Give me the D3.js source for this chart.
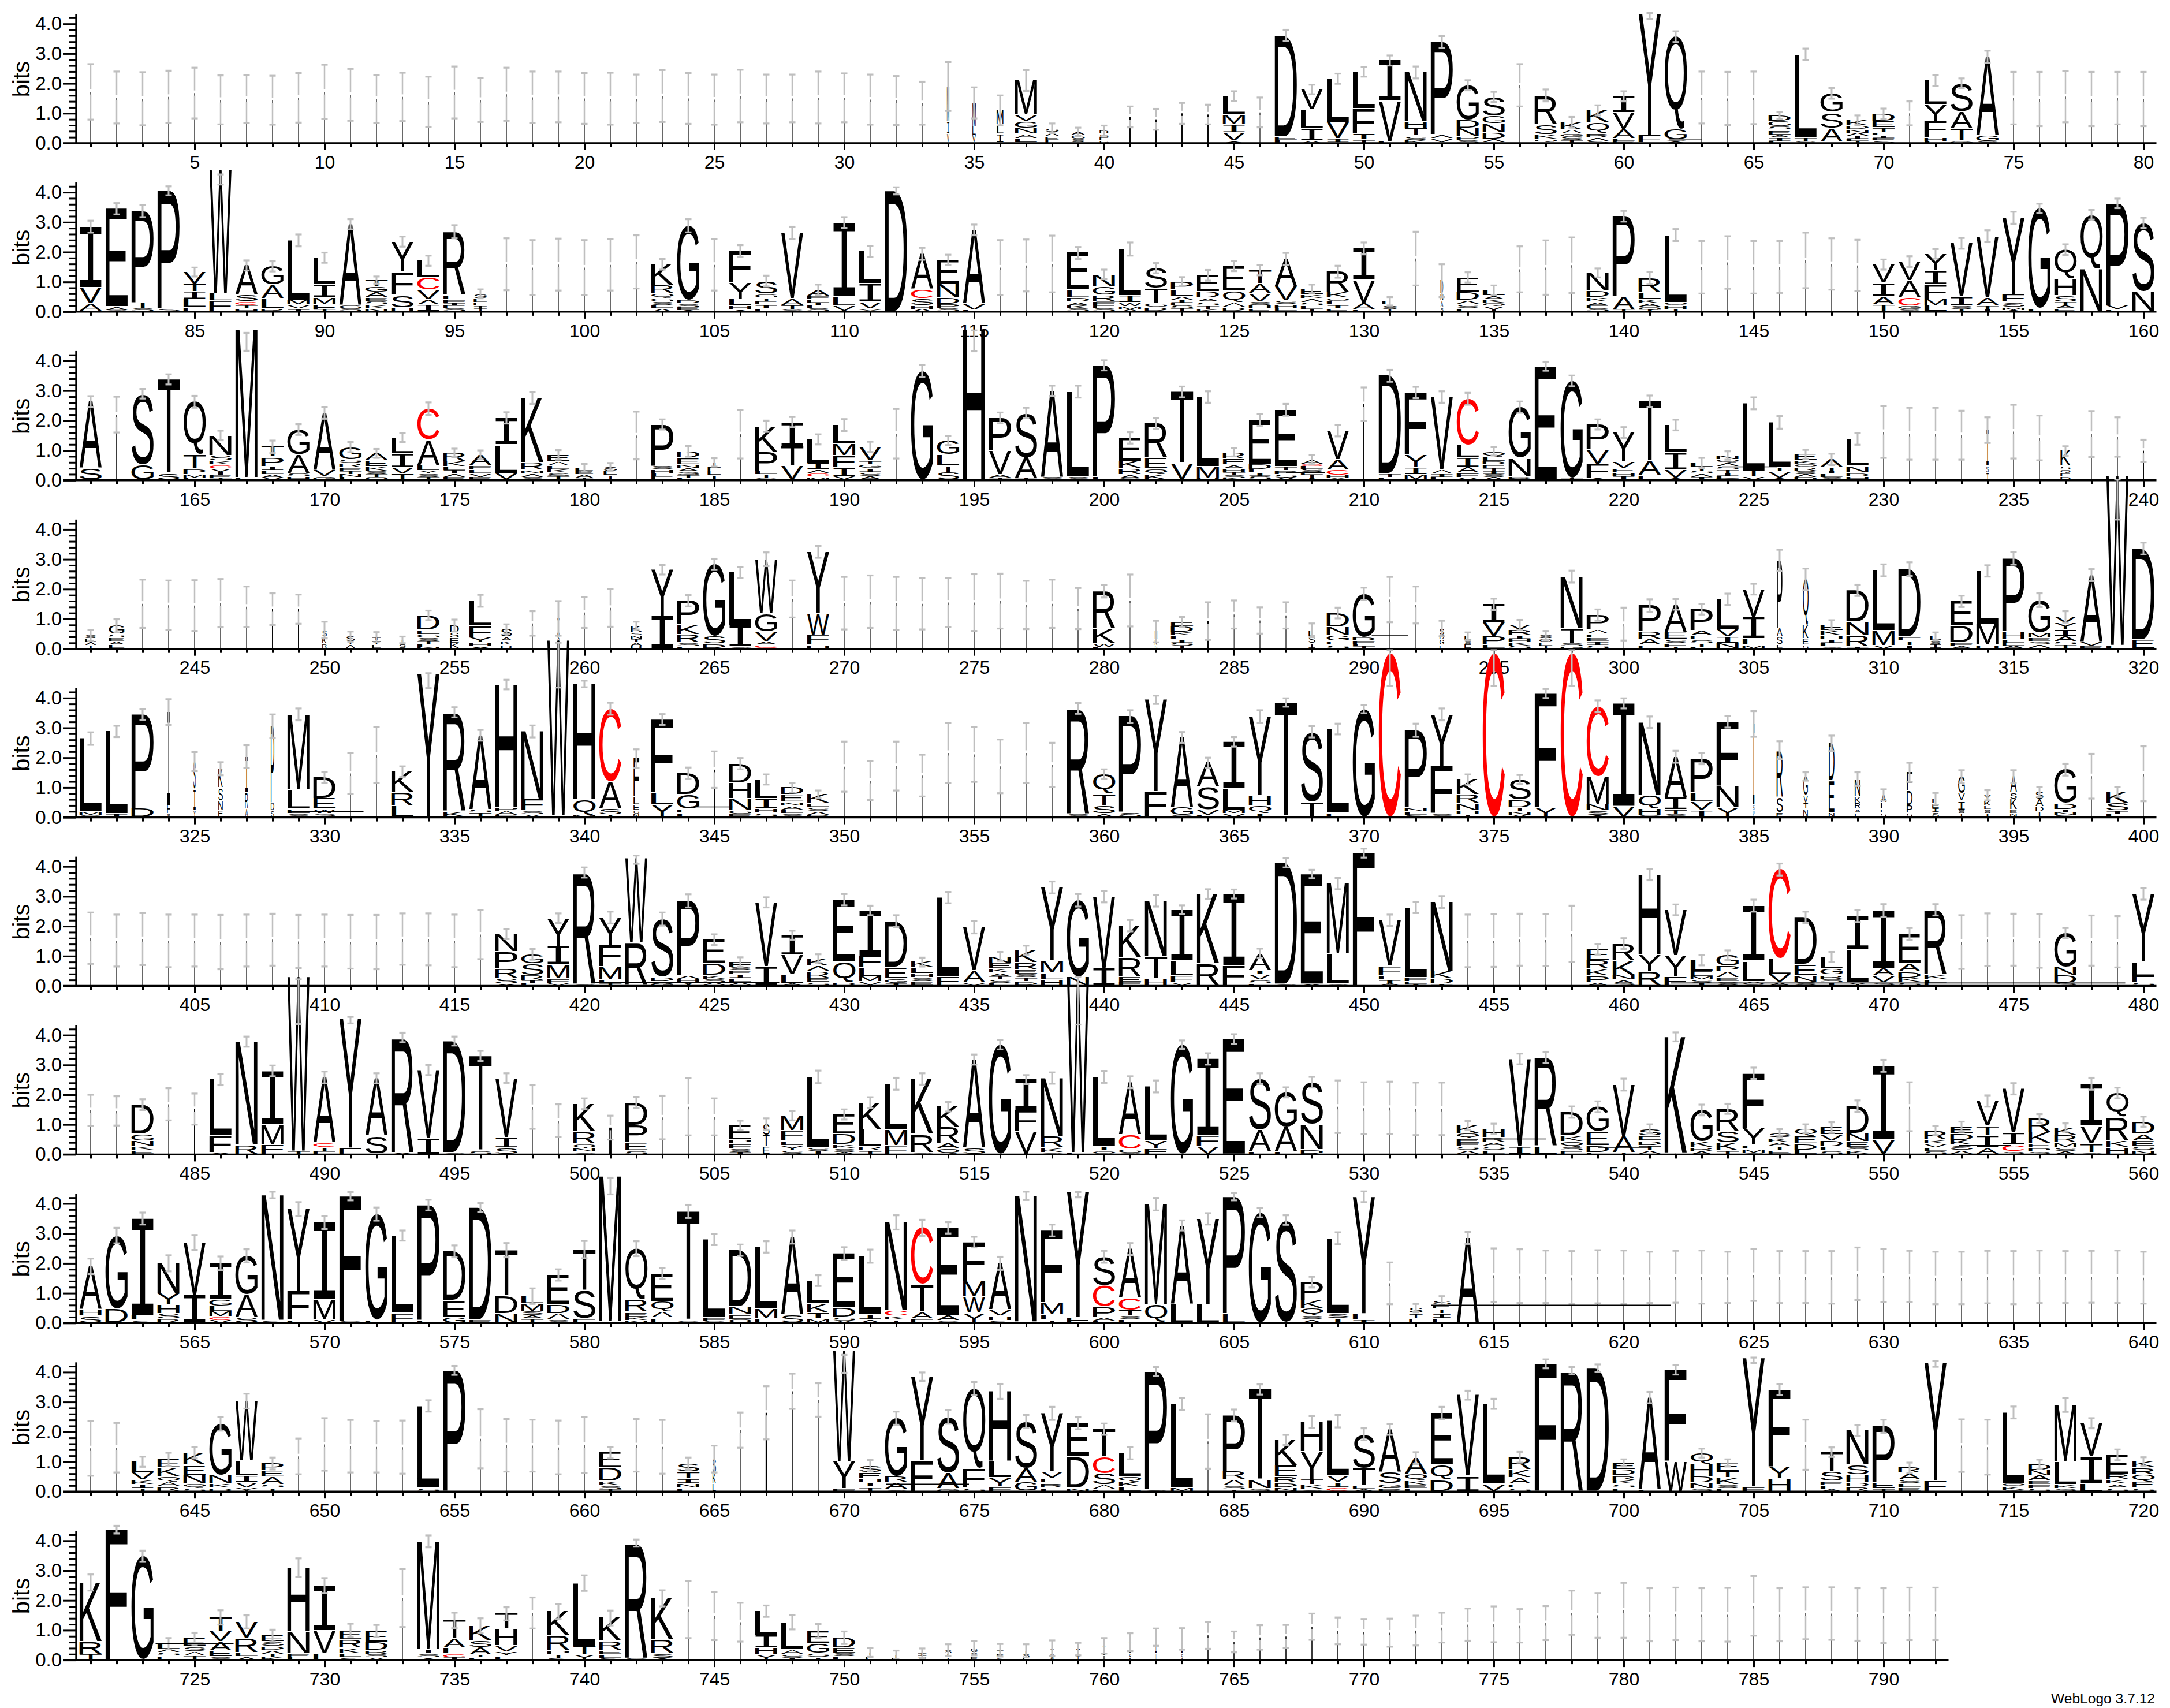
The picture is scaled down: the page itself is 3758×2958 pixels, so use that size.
<!DOCTYPE html>
<html><head><meta charset="utf-8"><style>html,body{margin:0;background:#fff}svg{display:block}</style>
<script src="https://cdn.jsdelivr.net/npm/d3@7"></script></head><body><div id="chart"></div>
<script>
// Each column: letters top to bottom with relative heights | stack top (bits), error half-height [, letter top]
// "~c,h[,w]" : column reduced to a thin line ; "wN" prefix : reduced column width
const row1=[
"~1.72,.93","~1.53,.87","~1.49,.89","~1.55,.88","~1.68,.85","~1.45,.82","~1.48,.81","~1.44,.82","~1.52,.83","~1.72,.91",
"~1.62,.87","~1.48,.8","~1.55,.81","~1.39,.84","~1.7,.87","~1.45,.74","~1.64,.89","~1.54,.86","~1.55,.85","~1.5,.85",
"~1.49,.87","~1.49,.81","~1.58,.87","~1.5,.85","~1.46,.84","~1.58,.88","~1.48,.82","~1.5,.8","~1.53,.87","~1.52,.82",
"~1.46,.84","~1.43,.82","~1.34,.72","w.1M1.2I.4V.3|1.9,.82","w.15M.8L.3V.25|1.35,.52","w.3M.5L.3I.3|1.1,.5","M1.2V.22G.25N.2A.15L.15|2.1,.35","w.6S.12A.12E.1L.1|.5,.16","w.6A.1G.1S.1|.38,.14","w.4D.12S.1E.1G.08|.42,.17",
"~.88,.35,.05","~.8,.35,.05","~1,.35,.05","~.96,.33,.05","L.62M.32I.28V.28A.06|1.58,.16","~1.03,.5,.03","D3.4E.1L.1|3.61,.19","V.6L.56I.35A.06|1.8,.16","L1.34V.5I.1A.03|2.16,.17","L1.2F.82I.18T.1|2.39,.16",
"I1.31V1.29L.05|2.77,.17","N1.43H.2T.22S.1K.1|2.37,.2","P2.97A.13V.11L.03|3.39,.2","G1.03D.23N.23P.1S.1|1.94,.17","S.52G.2N.24D.17A.1|1.55,.17","~1.94,.71,.03","R.72S.26K.12Q.06L.03|1.6,.2","K.26A.14G.1S.1T.1|.7,.18","K.27Q.23R.1A.06S.05|1.1,.17","I.45V.47A.26L.06E.05|1.57,.17",
"Y3.97F.24|4.26,.1,4.33","Q3G.34S.05A.05|3.57,.18","~1.53,.87","~1.5,.89","~1.52,.88","D.18G.17S.12E.15A.08I.12L.05|.92,.12","L2.78T.1S.06|2.98,.19","G.55S.45A.39L.03|1.67,.18","K.2D.12N.1A.1I.1L.08T.07|.77,.16","D.24E.2T.15L.08I.08F.08S.08|.98,.18",
"~1,.4,.03","L.8Y.55F.55H.12L.05|2.1,.19","S.92A.55T.4G.05|2.01,.16","A2.57G.2S.05|2.9,.2","~1.51,.88","~1.48,.91","~1.56,.86","~1.48,.91","~1.51,.88","~1.48,.91"];
const row2=[
"I2.05V.55A.25|2.85,.2","E3.1A.1S.05|3.45,.19","P2.85T.18S.1|3.37,.2","P3.9S.08|4.05,.15","V.31T.19I.19L.2F.1|1.33,.15","W4.1L.24F.34|4.43,.17,4.77","A.74S.17C.1T.07H.08|1.55,.17","G.53A.38L.26R.09|1.52,.17","L1.81M.15V.12I.07|2.39,.2","L.77I.37M.2F.16T.04|1.81,.17",
"A2.7G.1S.1|2.93,.17","T.22G.17A.17E.12S.12K.1N.1|1.06,.12","Y.88F.67S.36H.1|2.35,.17","L.45C.35V.26A.14I.17|1.71,.17","R2.1L.15F.1I.08E.1S.1|2.68,.22","w.6S.15L.12E.1I.1T.08|.6,.15","~1.59,.87","~1.48,.92","~1.58,.87","~1.48,.92",
"~1.57,.86","~1.67,.89","K.69R.27Q.16G.1S.1L.12A.1|1.59,.18","G2.5D.12S.1E.1A.05|2.88,.22","~1.57,.86","F.84Y.43L.17H.1A.05|2.03,.2","S.42G.12T.1E.12I.1L.1|1.03,.18","V2.05A.2T.14S.05|2.64,.21","A.22F.1E.1I.1L.1S.1|.74,.17","I2.27L.3V.17|2.99,.18",
"L.98I.57V.2Y.08|2.02,.18","D4|4.05,.12","A1.05C.27S.2H.1A.08|1.94,.2","E.67N.36D.19P.12S.08|1.74,.17","A2.35V.2L.05|2.74,.18","~1.48,.92","~1.55,.87","~1.6,.95","E1.2L.28D.14A.1K.1S.1|1.97,.2","N.38G.24R.17F.1E.1S.1|1.25,.16",
"L1.36I.2W.1M.1A.06|2.1,.22","S.52T.38G.1D.1|1.46,.17","P.28L.22A.1I.1E.1S.1T.1|1.01,.15","E.5D.2A.12S.1T.1K.08|1.22,.18","E.62Q.29A.12D.1|1.53,.17","T.45A.33V.27S.12H.1E.1|1.39,.17","A.9V.47S.12H.1E.12|1.77,.2","E.17K.12A.1S.1L.1T.08|.77,.14","R.65K.18Q.1L.12I.1E.1|1.34,.2","I.97V.72A.2L.06|2.12,.2",
"w.7L.1S.1T.05|.35,.14","~1.78,.9","w.12D.4N.2A.2S.1|1.04,.55","E.38D.2A.1S.1L.08|1.15,.17","L.17A.1K.1Q.1V.1T.06|.72,.16","~1.42,.77","~1.48,.91","~1.56,.93","N.6D.22K.15A.1E.1S.1|1.3,.15","P2.7A.45T.05|3.2,.18",
"R.48L.2K.15A.1Q.1T.05|1.13,.2","L2.25Q.12H.1T.08|2.57,.2","~1.49,.88","~1.65,.88","~1.49,.88","~1.5,.87","~1.72,.93","~1.6,.86","~1.55,.86","V.55I.39A.25T.2|1.58,.17",
"V.53A.47C.23G.1S.05|1.68,.18","Y.5I.43F.43M.2L.17|1.94,.16","V1.59I.25S.1T.08|2.29,.18","V1.86A.23T.1I.08|2.53,.2","Y2.28F.23S.14M.08A.05|3.15,.2","G3.3L.1|3.46,.16","Q.81H.48S.17T.1A.08E.08|2.08,.18","Q1.69N1.31|3.25,.16","P3.35V.14L.06|3.63,.16","S2.21N.63|2.98,.17"];
const row3=[
"A2.1S.36|2.64,.18","~2.2,.6,.04","S2.22G.48|2.9,.16","T3.15S.2|3.38,.17","Q1.54T.41P.16M.1L.05|2.63,.2","N.6S.15K.12C.1V.1I.1E.1T.05|1.5,.16","M4.95L.08|4.64,.3,5.05","T.28P.24I.12L.1A.08V.06|1.12,.21","G.71A.52S.1H.08|1.7,.18","A1.69V.2G.1|2.26,.2",
"G.43S.12R.15E.1T.1N.1L.1|1.11,.17","A.24E.2K.15S.1T.1Q.1|.9,.15","L.41I.38V.17T.15|1.43,.15","C1A.8L.17Y.1S.1T.1|2.4,.21","R.26K.15L.1I.1A.1E.1|.92,.14","A.32F.12L.12V.1E.1|.85,.15","I.81L.84V.2|2.09,.19","K2.15R.25N.12A.1S.1|2.76,.2","E.2A.12L.1K.1S.1T.1|.85,.16","w.8L.1E.1A.1T.05|.42,.13",
"w.6S.1L.1T.1|.45,.13","~1.5,.8","P1.12S.1H.1L.08E.1|1.87,.17","D.2E.2N.1A.1S.1T.08L.05|.97,.18","w.6T.1F.1L.1I.1|.6,.14","~1.54,.81,.04","K.72P.53L.1T.1S.05|1.81,.19","I.69T.55V.41|1.95,.17","L.62I.17A.1C.1M.07|1.37,.17","L.52M.34F.33I.24V.1|1.85,.2",
"V.38T.1G.1I.1S.1A.1|1.12,.17","~1.56,.83,.03","G3.62|3.66,.2","G.38L.3T.16S.2|1.33,.15","H4.9|4.67,.35,5.05","P.9V.66A.1T.05|2.09,.18","S1.36A.62T.05|2.26,.17","A2.76S.1|3,.17","L2.74S.1|2.97,.2","P3.65L.1|3.85,.17",
"E.6K.18R.16A.08S.05|1.42,.19","R.92E.3Q.16K.14|1.9,.18","T2.23V.5|2.96,.18","L2.2M.37H.05|2.79,.19","R.24E.2A.13H.1T.1S.1K.07|.94,.14","E1.25D.14L.1I.1S.1|2.02,.2","E1.67T.11P.1S.1A.08|2.36,.2","A.16C.05L.1S.1E.1T.1I.08|.69,.15","V.72A.25C.13H.07Y.05|1.66,.19","~2.55,.56,.05",
"D3.17T.12L.08|3.5,.2","F1.9Y.39I.23M.16|2.94,.19","V2.24A.14I.09L.09|2.79,.19","C1.39L.37I.28A.18F.14V.07|2.73,.2","Q.2L.15D.12E.1T.1I.1S.1A.1|.97,.14","G1.55N.55D.06S.05|2.45,.19","E3.8|3.82,.15","G3.13T.05|3.33,.18","P.75V.42F.41A.05|1.87,.17","Y.67V.16E.1H.08I.08|1.6,.18",
"T1.89A.46F.14|2.65,.19","L.81I.53V.25A.05|1.85,.18","L.15T.1S.1A.1I.1|.58,.17","N.15Q.12A.12S.1T.1I.1L.1K.05|.83,.14","L2.1T.18V.1|2.58,.2","L1.28T.14V.18A.05|1.94,.21","E.18K.1Q.1R.1S.08A.08D.08|.87,.15","A.25T.1I.1L.1S.1|.7,.19","L.69N.18D.1H.08|1.39,.2","~1.62,.87",
"~1.56,.87","~1.56,.87","~1.51,.82","w.1I1S.2T.2|1.68,.43","~1.63,.9","~1.42,.75","w.45K.45S.1Q.1E.1D.1|.98,.16","~1.55,.77","~1.45,.66","~.99,.37,.05"];
const row4=[
"w.5S.1E.1A.1T.08|.45,.19","w.7G.25S.1E.1A.1L.1|.77,.22","~1.51,.81","~1.46,.83","~1.45,.85","~1.53,.81","~1.41,.68","~1.33,.53,.05","~1.33,.49,.05","w.2S.3K.3R.2|.63,.28",
"w.4S.15T.1A.1|.41,.17","w.4I.1T.1L.1|.39,.17","w.3T.1S.1|.3,.11","D.5E.15G.12S.1T.1L.1N.05|1.12,.16","w.4D.15S.1E.1K.1|.78,.2","L.67F.3Y.14H.1A.05|1.61,.2","w.5S.2A.1K.1D.08|.66,.16","~.85,.41","w.08I.5S.2T.2|1.02,.58","~1.22,.52",
"~1.37,.63","w.5K.2S.1N.1I.1A.08D.08|.78,.13","Y1.41I.98|2.65,.16","P.65K.26R.22S.1L.05|1.61,.19","G2.27S.25D.14|2.83,.19","L1.68I.67S.06|2.56,.18","W1.55G.53V.28A.1C.1|3,.23","~1.67,.62,.02","Y1.85W.63F.3H.1|3.25,.2","~1.53,.88",
"~1.58,.88","~1.52,.89","~1.51,.86","~1.55,.82","~1.55,.95","~1.6,.92","~1.47,.81","~1.51,.81","~1.35,.69","R.97K.39W.08L.05|1.93,.21",
"~1.62,.87","w.1N.3K.2S.1|.58,.36","E.16D.2K.12L.12I.1S.1T.1|.9,.17","~.93,.63,.05","~1.15,.47,.02","~.95,.44,.03","~1.12,.44,.03","w.3L.2S.2I.15|.62,.23","D.35N.2G.14E.1S.08|1.2,.18","G1.16D.1F.08L.06T.06|1.84,.21",
"~1.65,.76,.03","~1.47,.62,.03","w.2S.2D.15G.15E.1|.68,.26","w.3L.1S.1E.1|.42,.13","I.46V.35P.21L.1|1.49,.19","V.16R.16I.1H.1K.1S.1|.8,.17","w.6S.12Q.1E.1T.1|.45,.15","N1.46T.42S.1G.05|2.42,.2","P.39A.12L.1E.1I.1S.08|1.13,.19","~.83,.55,.02",
"P.63R.18A.14E.08|1.45,.21","A.7E.18S.1F.08T.05|1.49,.18","P.58A.14E.12S.1T.08L.05|1.33,.18","L.85V.21I.18N.14|1.66,.19","V.82I.63L.18M.1|2,.18","w.25P1.7A.2S.2L.1|2.96,.36","w.25Q1.4K.4E.2S.1|2.33,.36","E.16K.14H.1I.1L.1S.05|.8,.16","D.9N.39R.32I.05|1.96,.19","L1.92M.46V.1|2.63,.2",
"D1.99F.12T.14I.08|2.67,.23","w.5L.1S.1I.1|.42,.13","E.6D.42F.1A.05|1.59,.19","L1.66M.63H.1|2.61,.19","P2.4H.25L.1E.1A.1|3.03,.21","G.95M.15E.1S.1A.1|1.63,.23","V.18Y.18I.18A.14S.1T.1|1.07,.19","A2.04V.14E.08|2.47,.2","W5.55L.1|5,.67,5.8","D2.85E.28|3.36,.2"];
const row5=[
"L2.25M.12S.05|2.64,.21","L2.6I.1|2.88,.19","P3D.28|3.45,.18","w.13I2.9F.3S.1|3.53,.43","w.1S.8I.6Y.2|1.87,.32","w.2K.6S.4N.3E.2|1.63,.22","w.12I.9R.4A.2|2.04,.38","w.15P2.4D.25S.2|3.06,.39","M2.39L.6E.15S.1|3.45,.2","D.49E.25W.1S.08|1.34,.18",
"~1.47,.69","~2.09,.94","K.52R.34L.28|1.53,.18","Y4.8|4.58,.25,4.82","R3.2K.18|3.52,.17","A2.32S.1T.14|2.75,.18","H3.89P.12A.14E.05|4.45,.16","N2F.35S.1A.08|2.88,.2","W5.8I.05|5.1,.75,5.94","H3.79Q.53M.05|4.47,.11",
"C2.34A.85S.2T.08|3.64,.2","w.25F1.4L.3E.2G.15N.1|1.97,.31","F2.4L.38Y.42|3.28,.18","D.53G.35F.1L.1|1.48,.19","~1.6,.61,.05","D.53H.42N.32G.1E.08|1.8,.19","L.46I.25H.1S.1|1.27,.17","D.18E.18N.1A.1L.1S.08|.99,.16","K.24E.1S.1A.1R.05|.77,.13","~1.7,.84",
"~1.23,.65","~1.72,.82","~1.4,.7","~2.16,1","~2.11,.92","~1.71,.9","~2.16,1","~1.76,.74","R3.4S.1|3.65,.18","Q.49T.3S.18A.08|1.45,.16",
"P2.92S.15|3.38,.21","Y2.99F.82|3.94,.14","A2.22G.26S.05|2.68,.18","A.7S.68V.15L.05|1.83,.17","I1.44L.67M.12V.1|2.53,.16","Y2.39H.3Q.23I.12|3.38,.21","T3.75|3.85,.14","S2.21T.48|2.87,.19","L2.68F.12|2.96,.18","G3.52|3.63,.14",
"C5.4|5,.6,5.5","P2.32N.1L.1S.08|2.92,.22","Y1.62F1.48S.1|3.45,.2","K.35R.2N.16H.09T.06|1.27,.17","C5.45|5,.6,5.5","S.49D.17T.1N.07A.05|1.27,.15","F3.73Y.32|4.15,.15","C5.45|5,.6,5.5","C2.17M.85N.2S.14A.06|3.72,.2","I3.39V.35|3.82,.17",
"N2.28Q.42H.2S.05|3.19,.19","A1.35I.4T.15S.1|2.03,.2","P1.02L.29V.25I.2|1.97,.19","F2.08N.67Y.32|3.2,.19","w.07I2.5S.2P.2|3.13,.43","w.28R1.5S.5E.15|2.25,.3","w.2G.5V.2T.15N.2|1.37,.14","w.25D1.2E1N.15|2.48,.26","w.25N.45K.15R.15A.1E.1|1.28,.23","w.25A.2L.15E.1S.1|.75,.19",
"w.25F.5D.4P.2S.1|1.51,.32","w.3L.12E.1I.1S.1|.62,.2","w.3G.49V.2I.25S.1T.1|1.37,.21","w.3Y.15K.15L.1S.1I.1|.74,.17","w.3A.45S.18K.3E.1N.1|1.37,.21","w.35S.15A.15D.1T.1|.85,.17","G.79D.14I.07N.06S.05|1.6,.2","~1.38,.75","K.21S.14I.06L.05|.85,.16","~1.46,.92"];
const row6=[
"~1.6,.86","~1.52,.87","~1.57,.87","~1.51,.88","~1.52,.87","~1.47,.91","~1.52,.87","~1.55,.87","~1.49,.89","~1.52,.87",
"~1.48,.9","~1.47,.91","~1.57,.86","~1.56,.87","~1.51,.88","~1.72,.82","N.47P.44R.26S.15A.05|1.74,.17","G.22S.25R.11I.06L.05|1.06,.18","Y.8I.51M.39F.13V.07|2.27,.16","R3.66S.05|3.8,.17",
"Y.77F.6M.35L.1T.07|2.29,.2","W2.7R1.37|4.23,.14,4.28","S1.56D.12A.05G.05|2.24,.22","P2.22A.1H.08V.08T.05|2.85,.22","E.63D.3K.1S.08A.09|1.55,.18","F.15S.1E.1I.1L.1A.1|.8,.16","V2.02I.6|2.8,.17","I.54V.53L.23A.06|1.7,.15","K.14A.1R.12E.08S.06|.92,.14","E1.93Q.63D.09|2.89,.19",
"I1.5F.36L.3M.17V.12|2.53,.16","D1.29E.32G.14I.06|2.17,.2","K.14L.15H.1S.1E.1|.8,.15","L2.5F.28|2.96,.19","V1.2A.33V.07|1.97,.21","N.22E.17K.14A.1T.1S.1L.1|.99,.15","K.28R.15E.1S.08T.08D.09|1.2,.15","Y2.24M.39L.2H.18|3.3,.2","G2.42N.28|2.87,.21","V2.29I.56|2.99,.19",
"K.92R.56E.14F.1|2.02,.19","N1.75T.7H.21|2.85,.19","I1.58L.47F.2V.1|2.55,.15","K2.25R.7|3.08,.16","I2.25F.63|3.08,.15","A.47I.12V.14S.1L.05|1.09,.16","D3.95S.05|4.13,.16","E3.45A.05|3.75,.14","M2.25L.95S.05|3.43,.19","F4.4|4.45,.15",
"V1.44F.28L.14I.1A.08|2.2,.19","L2.2F.12E.08I.05|2.63,.19","N1.98K.21D.14I.05|2.81,.2","~1.51,.88","~1.52,.88","~1.55,.87","~1.54,.87","~1.75,.94","E.35R.28K.22P.2A.1|1.23,.18","R.42K.34N.12A.08S.05|1.42,.18",
"H2.55Y.53R.46|3.73,.19","V1.41Y.63F.28|2.55,.18","L.32E.14M.1S.08I.08|.86,.17","G.28P.14A.14E.1S.1|1.03,.16","I1.72L.63A.08S.05|2.69,.2","C2.84L.5V.25A.1|3.9,.2","D1.34E.32N.18S.1|2.3,.19","L.3G.15R.1S.08I.08|.97,.17","I1.06L1Y.1|2.34,.2","I1.67A.21V.2S.08|2.53,.21",
"E.7A.2D.14K.1S.08|1.74,.2","R1.9K.14L.1E.08|2.55,.19","~1.47,.9","~1.55,.88","~1.55,.87","~1.51,.9","G.85N.2D.2S.06|1.77,.17","~1.52,.84","~1.48,.86","Y2.04L.42F.18S.1|3.08,.19"];
const row7=[
"~1.48,.52","~1.46,.49","D.77G.18N.14K.1E.1|1.67,.18","~1.68,.54","~1.52,.52,.05","L1.83F.56A.05|2.51,.19","N3.35R.3|3.78,.17","I1.62M.6F.28|2.8,.18","W5.7T.1|5.12,.75,5.96","A1.97C.14T.1F.1|2.58,.2",
"Y4.3F.2|4.5,.11,4.56","A1.76S.55|2.55,.17","R3.7A.05|3.92,.16","V2.11I.49|2.83,.17","D3.6S.05|3.8,.15","T2.92S.1|3.3,.17","V1.85I.32S.2|2.56,.16","~1.59,.73","~1.13,.55","K.74R.32Q.12N.1S.05|1.7,.18",
"~.9,.4,.1","D.6P.46E.21S.08|1.74,.19","~1.24,.73","~1.6,.96","~1.26,.62","E.35P.1F.1S.08I.06|.97,.16","w.3S.15T.15E.1|1.02,.19","M.32F.23L.1Y.1S.08|1.3,.16","L2.05S.1I.1|2.6,.21","E.49D.25K.1S.08A.06|1.34,.17",
"K.67L.42R.12T.08|1.74,.18","L1.34M.46F.25|2.37,.2","K1.6R.53S.05|2.53,.19","K.53R.42A.14Q.14|1.6,.16","A2.74S.2|3.18,.17","G3.6|3.68,.16","I.95F.65V.7|2.51,.15","N1.7R.32K.14S.05|2.56,.19","W5.7L.05|5.15,.8,5.96","L2.13I.14Q.1|2.6,.2",
"A1.56C.42G.1S.05|2.42,.2","L1.56Y.23F.14|2.28,.2","G3.63|3.68,.14","I2.48F.33V.25|3.2,.19","E3.82|3.87,.16","S1.64A.67L.08|2.54,.18","G1.09A.77L.08|2.08,.17","S1.28N.77D.14|2.42,.18","~1.6,.88","~1.55,.87",
"~1.56,.88","~1.53,.88","~1.53,.88","K.18Q.12E.1F.08S.08A.08|.97,.15","H.18R.1A.08S.08L.08|.86,.17","V2.65I.25|3.2,.18","R2.85L.25|3.25,.19","D.6K.14Q.14S.1E.08|1.42,.19","G.67E.37D.18L.05|1.6,.18","V1.55A.49T.05|2.34,.2",
"S.15E.1D.1T.1A.08|.86,.15","K3.86A.04|3.94,.15","G.77K.14R.1A.07|1.49,.18","R.56S.3K.2T.08|1.53,.17","F1.6Y.49L.12M.1S.05|2.72,.19","S.1K.1A.08T.08E.08|.71,.14","Q.15E.14D.12L.08|.86,.15","E.18V.14D.14L.1S.08|.9,.18","D.72N.21E.14S.08K.1|1.62,.19","I2.2V.42|2.97,.2",
"~1.6,.82","R.19K.08V.08L.07S.06|.8,.15","E.14D.14K.1S.1A.08|.93,.17","V.72T.28I.35A.18|1.79,.19","V1.27I.35C.18S.08|2.2,.19","R.3K.23E.1P.08S.05|1.2,.15","K.14R.14M.08S.06A.06|.9,.14","I1.23V.53T.25S.05|2.37,.2","Q.65R.63K.18H.18|2.06,.18","D.26A.14E.1S.08N.08|1.1,.17"];
const row8=[
"A1.2H.18S.18|1.9,.26","G2.3D.44|2.93,.26","I3.1L.16S.08|3.5,.2","N.83Y.3H.24S.14R.11|2,.27","V1.65I.87|2.7,.25","I1G.19L.15M.14C.09V.08|2,.23","G1.2A.7S.17|2.25,.22","N4.17S.08|4.29,.11","Y2.6F.9L.08|3.82,.23","I2.48M.63V.1|3.37,.22",
"F4.1S.05|4.25,.14","G3.3L.08|3.65,.22","L2.48F.3|2.93,.17","P3.77L.08|3.95,.18","D1.49E.5G.17|2.4,.2","D3.7E.1|3.87,.15","T1.41D.55N.28|2.44,.24","L.18M.16S.1A.08T.08|.9,.26","E.72D.22A.14S.08|1.61,.19","T1.3S.9F.12|2.46,.29",
"M4.74L.04|4.59,.28,4.92","Q1.49R.37E.14K.11N.06|2.49,.25","E.75Q.28A.16F.13|1.66,.19","T3.56S.06|3.74,.22","L2.44F.1S.05|2.8,.19","D1.65N.22E.14Q.1|2.44,.19","L1.87M.3F.13|2.55,.19","A2.42S.24|2.88,.22","L.58K.24I.14M.1|1.42,.18","E1.6D.28S.1A.06|2.33,.21",
"L1.76I.16A.1|2.24,.22","N2.75C.17K.12T.08|3.37,.24","C1.69T.83A.2F.11|3.19,.27","E2.79A.17S.06|3.19,.19","F1.1M.44W.44Y.28|2.71,.18","A1.27V.17H.12S.06|2,.22","N4.2S.03|4.26,.14","F2.2M.36L.17T.08|3.1,.2","Y4.06F.17|4.3,.09,4.4","S.83C.6P.3A.1L.05|2.22,.2",
"A1.65C.4T.2S.12L.1|2.48,.2","M3.1Q.56|3.98,.21","A2.46L.6|3.27,.17","Y2.6L.56|3.49,.19","P3.9L.3|4.23,.12","G3.7|3.7,.16","S3.45|3.45,.16","P.46K.21Q.18S.1A.08|1.37,.18","L2.5S.15I.15|2.84,.2","Y3.95L.2I.1|4.23,.18",
"~1.33,.7","w.6S.12T.1L.1|.5,.14","w.8S.1E.1T.1I.1L.1|.75,.15","A2.8|2.85,.2","~1.6,.9","~1.57,.9","~1.55,.88","~1.52,.89","~1.55,.89","~1.53,.9",
"~1.53,.86","~1.55,.87","~1.54,.89","~1.53,.86","~1.61,.87","~1.54,.87","~1.54,.87","~1.53,.88","~1.65,.88","~1.59,.89",
"~1.56,.86","~1.51,.88","~1.51,.88","~1.54,.88","~1.52,.89","~1.55,.88","~1.54,.87","~1.55,.87","~1.55,.88","~1.52,.87"];
const row9=[
"~1.45,.92","~1.47,.83","L.32V.22K.14I.1T.1|1,.17","E.22K.22Q.14A.12R.12|1.08,.22","K.33E.26N.22Q.12S.08|1.3,.19","G1.57N.24K.14D.1|2.27,.23","W1.73L.44I.18V.16Y.1|3.03,.25","P.19E.17A.19S.1T.08|.94,.2","~1.18,.6","~1.58,.88",
"~1.52,.88","~1.5,.86","~1.49,.89","L2.67S.1|2.87,.19","P3.99|4.06,.15","~1.77,.99","~1.55,.88","~1.54,.87","~1.48,.9","~1.56,.94",
"E.39D.33K.11S.08T.06|1.3,.19","~1.55,.88","~1.5,.9","S.22T.18I.12N.12L.08|.94,.2","w.15S.4K.3L.2|1.09,.45","~2.06,.59,.02","~2.64,.89,.06","~3.36,.59,.04","~3.07,.56,.02","W3.58Y.88F.08|4.28,.3,4.72",
"S.17E.15H.1I.1T.1|.87,.19","G1.71R.17A.2S.06|2.46,.22","Y2.79F.99|3.85,.14","S1.8A.5G.08|2.5,.23","Q2.48F.6S.1|3.45,.22","H2.17L.5Y.28F.14|3.36,.25","S1.49A.44G.28|2.35,.22","Y1.7V.2E.14R.14L.1|2.62,.22","E1D.94N.1|2.29,.2","T.75C.46S.31A.12L.05|2.09,.19",
"L.56Q.14K.12L.1|1.29,.21","P3.9S.06|4.02,.15","L2.67M.12|2.94,.2","~1.68,.91,.03","P1.71R.25A.19S.12T.05|2.55,.2","T3N.27S.08|3.42,.17","K.73E.31R.18D.13N.1|1.73,.17","H.79Y.73T.13K.12S.05|2.33,.2","L1.67V.21I.15C.12|2.36,.21","S1T.5E.12A.06|1.92,.2",
"A1.28S.35G.15P.08|2.08,.18","A.46Q.19K.12E.1L.08|1.12,.2","E1.59Q.48D.35|2.63,.21","V2.69I.5|3.23,.15","L2.63V.23|2.94,.17","R.31K.19A.15E.1S.08|1.15,.18","F4.2|4.28,.15","R4.02|4.05,.12","D4.1|4.13,.13","E.18D.15R.12K.1S.1L.08|.96,.12",
"A2.96L.06|3.15,.19","F2.96W.96|4.08,.16","Q.25H.27D.14N.12S.06|1.29,.15","E.19T.14K.15S.08L.06|.96,.12","Y4.1F.15|4.4,.09,4.48","F2.38Y.38H.38|3.42,.18","~1.57,.84","T.48S.25E.1L.08A.06|1.32,.16","N.96S.27H.21D.13R.12|2.04,.18","P1.42E.15T.06|2.19,.22",
"R.12A.14S.08L.08E.08|.8,.17","Y3.86F.35|4.28,.1,4.32","~1.54,.88","~1.49,.92","L2.25Q.1K.1S.05|2.65,.2","D.15N.14A.12E.1F.08S.08|.92,.15","M1.68L.69K.12S.08|2.9,.23","V.98I.79L.23|2.29,.17","E.5R.14K.12A.1S.08|1.23,.18","K.12R.14Q.14E.13S.06|1,.15"];
const row10=[
"K1.82R.39T.17|2.6,.27","F4.3|4.37,.13","G3.4|3.48,.19","L.15A.1S.1E.1|.55,.19","E.17S.1A.1T.08|.72,.2","T.48V.35A.3E.2S.1|1.43,.24","V.42R.37L.1A.08|1.28,.22","E.2S.14D.12A.1T.1K.1|.82,.2","H1.87N.66E.1L.08|3.1,.31","I1.43V.72L.2|2.5,.25",
"E.22R.18K.12L.08S.06|1,.22","E.28D.2R.1S.08A.06|.98,.2","~2.08,.97","M3.36I.14S.12A.06|3.98,.2","T.55A.28L.17C.1I.08|1.33,.26","K.36S.18A.18T.06L.06|1.15,.25","T.44H.46V.17Y.12L.1|1.55,.22","~1.58,.52,.02","K.68R.42P.12T.08S.06|1.63,.25","L1.85T.25Y.15|2.58,.26",
"K.63R.25E.11L.08S.06|1.41,.25","R3.8S.05|3.92,.12","K1.29R.41S.15A.05|2.07,.27","~1.7,.96","~1.48,.81","~1.27,.65","L.64I.33H.17Y.14|1.64,.19","L.7A.12S.08I.06|1.27,.24","E.31G.24S.1T.06|.98,.23","D.22E.11S.08L.06|.75,.21",
"w.4T.1L.1|.26,.15","w.4T.08L.06|.18,.14","w.4I.1S.08|.23,.16","w.3S.12A.1T.08|.33,.2","w.3G.15S.12E.1|.4,.24","w.3T.12E.1S.08|.33,.21","w.3T.1S.1L.08|.31,.22","w.15I.2S.1|.4,.26","w.15I.2T.1|.37,.21","w.1I.3S.1|.48,.26",
"w.08I.3S.15|.6,.3","w.06I.4T.15|.77,.29","w.06I.4S.15|.71,.36","~.83,.45,.04","~.61,.35,.04","~.76,.41,.04","~.79,.39,.04","~1.12,.44,.04","~.98,.45,.04","~.95,.43,.04",
"~.92,.47,.04","~.99,.5,.04","~1.09,.5,.03","~1.19,.54,.03","~1.2,.6,.03","~1.15,.56,.03","~1.24,.57,.03","~1.59,.74","~1.5,.75","~1.67,.92",
"~1.52,.89","~1.55,.88","~1.52,.89","~1.52,.9","~1.82,1","~1.52,.89","~1.57,.87","~1.56,.88","~1.53,.88","~1.49,.92",
"~1.55,.88","~1.55,.88"];
// Stray hairlines left by near-zero-height letters: [first position, last position, height in bits]
const hairlines=[[61.75,63,.11],[119.7,121.3,.35],[207,208.5,.26],[223.8,225.9,.45],[290.3,291.7,.46],[328.6,331.5,.19],[344.1,345.7,.35],[420.3,427.5,.12],[461.8,479.3,.1],[535,537,.52],[539,541,.24],[552.9,554.9,.3],[612.6,621.8,.6],[671.6,674.8,.25],[723.5,726.5,.55]];
const rowLetters=[row1,row2,row3,row4,row5,row6,row7,row8,row9,row10];
const yTickLabels=[0,1,2,3,4];
const creditText="WebLogo 3.7.12";

const W=3758,H=2958,RED="#ff0000",GREY="#bfbfbf";
const svg=d3.select("#chart").append("svg").attr("width",W).attr("height",H).attr("viewBox",[0,0,W,H]).style("background","#fff");
const ctx=document.createElement("canvas").getContext("2d");
const glyphFont=c=>c==="I"?"Liberation Mono":"Liberation Sans";
const inkCache={};
function ink(c){ if(inkCache[c]) return inkCache[c];
  ctx.font=`100px "${glyphFont(c)}"`; const m=ctx.measureText(c);
  return inkCache[c]={l:-m.actualBoundingBoxLeft,r:m.actualBoundingBoxRight,a:m.actualBoundingBoxAscent,d:m.actualBoundingBoxDescent};}
function parseCol(s){
  if(s[0]==="~"){const [c,h,w]=s.slice(1).split(",").map(Number);return {thin:true,c,h,w:w||0,letters:[],top:c};}
  let [a,b]=s.split("|"); let w=1; const mw=a.match(/^w([\d.]+)/); if(mw){w=+mw[1];a=a.slice(mw[0].length);}
  const [c,h,t]=b.split(",").map(Number);
  const letters=[...a.matchAll(/([A-Z])(\d*\.?\d+)/g)].map(m=>({ch:m[1],v:+m[2]}));
  return {thin:false,c,h,w,letters,top:t||c};
}
const BIT=51.7, LETTER_W=38.5;
rowLetters.forEach((cols,r)=>{
  const first=80*r+1, base=248+r*291.9;
  const x=d3.scaleLinear().domain([first,first+79]).range([157,3712]);
  const y=d3.scaleLinear().domain([0,1]).range([base,base-BIT]);
  const last=first+cols.length-1;
  const g=svg.append("g");
  const data=cols.map((s,i)=>Object.assign(parseCol(s),{pos:first+i}));
  const cg=g.selectAll("g.col").data(data).join("g").attr("class","col");
  cg.each(function(d){
    const sel=d3.select(this);
    if(d.thin){
      if(d.w>0) sel.append("rect").attr("x",x(d.pos)-LETTER_W*d.w/2).attr("width",Math.max(1,LETTER_W*d.w)).attr("y",y(d.c)).attr("height",y(0)-y(d.c)).attr("fill","#000");
      else sel.append("line").attr("x1",x(d.pos)).attr("x2",x(d.pos)).attr("y1",y(0)).attr("y2",y(d.c)).attr("stroke","#000").attr("stroke-width",1.2);
    } else {
      const sum=d3.sum(d.letters,l=>l.v), k=d.top/sum; let acc=d.top;
      d.letters.forEach(l=>{
        const h=l.v*k, yTop=y(acc), yBot=y(acc-h); acc-=h;
        const m=ink(l.ch), bw=LETTER_W*d.w, bh=Math.max(.6,yBot-yTop-(yBot-yTop>6?1.6:.4));
        const sx=bw/(m.r-m.l), sy=bh/(m.a+m.d);
        sel.append("text").text(l.ch)
          .attr("font-family",glyphFont(l.ch)).attr("font-size",100)
          .attr("fill",l.ch==="C"?RED:"#000")
          .attr("transform",`translate(${x(d.pos)-bw/2-m.l*sx},${yTop+m.a*sy}) scale(${sx},${sy})`);
      });
    }
    // error bar
    const yt=y(d.c+d.h), yb=y(d.c-d.h), yc=y(d.c), gap=d.thin?4.5:0;
    const seg=(a,b)=>sel.append("line").attr("x1",x(d.pos)).attr("x2",x(d.pos)).attr("y1",a).attr("y2",b).attr("stroke",GREY).attr("stroke-width",d.thin?2.5:3);
    if(gap){seg(yt,yc-gap);seg(yc+gap,yb);} else seg(yt,yb);
    [yt,yb].forEach(v=>sel.append("line").attr("x1",x(d.pos)-5.5).attr("x2",x(d.pos)+5.5).attr("y1",v).attr("y2",v).attr("stroke",GREY).attr("stroke-width",3.2));
  });
  // hairlines
  g.selectAll("line.hair").data(hairlines.filter(h=>h[0]>=first-.5&&h[0]<=last+.5)).join("line").attr("class","hair")
    .attr("x1",h=>x(h[0])).attr("x2",h=>x(h[1])).attr("y1",h=>y(h[2])).attr("y2",h=>y(h[2])).attr("stroke","#000").attr("stroke-width",1.6);
  // x axis
  const positions=d3.range(first,last+1);
  const minorAx=d3.axisBottom(x).tickValues(positions.filter(p=>p%5)).tickSize(7).tickFormat("");
  const majorAx=d3.axisBottom(x).tickValues(positions.filter(p=>p%5===0)).tickSize(12).tickPadding(9).tickFormat(d3.format("d"));
  [minorAx,majorAx].forEach(ax=>{
    const a=g.append("g").attr("transform",`translate(0,${base})`).call(ax);
    a.select(".domain").remove();
    a.selectAll("line").attr("stroke","#000").attr("stroke-width",3);
    a.selectAll("text").attr("font-family","Liberation Sans").attr("font-size",32).attr("fill","#000");
  });
  g.append("line").attr("x1",109).attr("x2",x(last)+22.5).attr("y1",base).attr("y2",base).attr("stroke","#000").attr("stroke-width",3.4);
  // y axis
  const yMinor=d3.axisLeft(y).tickValues(d3.range(1,22).map(v=>v/5).filter(v=>Math.abs(v-Math.round(v))>.01)).tickSize(12).tickFormat("");
  const yMajor=d3.axisLeft(y).tickValues(yTickLabels).tickSize(23).tickPadding(2).tickFormat(d3.format(".1f"));
  [yMinor,yMajor].forEach(ax=>{
    const a=g.append("g").attr("transform","translate(132,0)").call(ax);
    a.select(".domain").remove();
    a.selectAll("line").attr("stroke","#000").attr("stroke-width",3);
    a.selectAll("text").attr("font-family","Liberation Sans").attr("font-size",33).attr("fill","#000");
  });
  g.append("line").attr("x1",132).attr("x2",132).attr("y1",base).attr("y2",y(4.33)).attr("stroke","#000").attr("stroke-width",3.4);
  g.append("text").text("bits").attr("font-family","Liberation Sans").attr("font-size",40).attr("fill","#000")
    .attr("text-anchor","middle").attr("transform",`translate(51,${base-111}) rotate(-90)`);
});
svg.append("text").text(creditText).attr("font-family","Liberation Sans").attr("font-size",24.6).attr("fill","#000").attr("text-anchor","end").attr("x",3732).attr("y",2950);
</script></body></html>
